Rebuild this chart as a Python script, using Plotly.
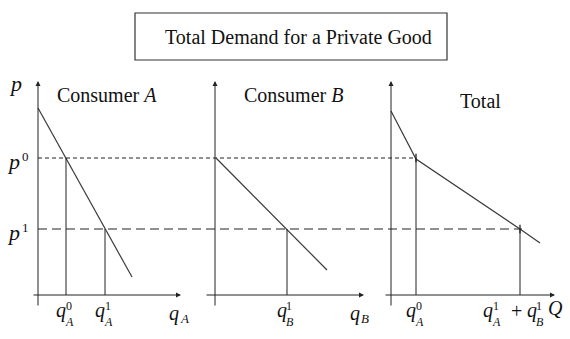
import plotly.graph_objects as go

# ---------------- data (price / quantity units) ----------------
P_LEVELS = [13.7, 6.6]            # p0, p1
DEMAND_A_Q = [0.0, 9.4]
DEMAND_A_P = [18.7, 1.8]
DEMAND_B_Q = [0.1, 11.2]
DEMAND_B_P = [13.7, 2.5]
TOTAL_Q = [0.0, 2.5, 12.9, 14.9]
TOTAL_P = [18.4, 13.6, 6.6, 5.2]
QA_POINTS = [2.8, 6.7]            # q_A^0, q_A^1
QB_POINTS = [7.2]                 # q_B^1
QT_POINTS = [2.5, 12.9]           # total q at p0, p1
DASH_END = [37.8, 48.4]           # extent of dashed price lines (left-panel units)
PANEL_TITLES = ["Consumer <i>A</i>", "Consumer <i>B</i>", "Total"]
TITLE = "Total Demand for a Private Good"

W, H = 570, 339
SERIF = "Liberation Serif"
INK = "#222"
LINE = "#3a3a3a"

fig = go.Figure()

# demand curves
fig.add_trace(go.Scatter(x=DEMAND_A_Q, y=DEMAND_A_P, xaxis="x", yaxis="y",
                         mode="lines", line=dict(color=LINE, width=1.2)))
fig.add_trace(go.Scatter(x=DEMAND_B_Q, y=DEMAND_B_P, xaxis="x2", yaxis="y",
                         mode="lines", line=dict(color=LINE, width=1.2)))
fig.add_trace(go.Scatter(x=TOTAL_Q, y=TOTAL_P, xaxis="x3", yaxis="y",
                         mode="lines", line=dict(color=LINE, width=1.2)))

# dashed price lines
fig.add_trace(go.Scatter(x=[0, DASH_END[0]], y=[P_LEVELS[0]] * 2, xaxis="x", yaxis="y",
                         mode="lines", line=dict(color=INK, width=1, dash="4px,3px")))
fig.add_trace(go.Scatter(x=[0, DASH_END[1]], y=[P_LEVELS[1]] * 2, xaxis="x", yaxis="y",
                         mode="lines", line=dict(color=INK, width=1, dash="9px,5px")))

# vertical quantity drops
for q, p in zip(QA_POINTS, P_LEVELS):
    fig.add_trace(go.Scatter(x=[q, q], y=[0, p], xaxis="x", yaxis="y",
                             mode="lines", line=dict(color=INK, width=1)))
fig.add_trace(go.Scatter(x=[QB_POINTS[0]] * 2, y=[0, P_LEVELS[1]], xaxis="x2", yaxis="y",
                         mode="lines", line=dict(color=INK, width=1)))
for q, p in zip(QT_POINTS, P_LEVELS):
    fig.add_trace(go.Scatter(x=[q, q], y=[0, p], xaxis="x3", yaxis="y",
                             mode="lines", line=dict(color=INK, width=1)))
# small marks at the kinks of the total curve
fig.add_trace(go.Scatter(x=QT_POINTS, y=P_LEVELS, xaxis="x3", yaxis="y", mode="markers",
                         marker=dict(symbol="line-ns", size=6,
                                     line=dict(color=INK, width=1.3))))

# ---------------- axes with arrows ----------------
ann = []
axes_spec = [("x", -0.6, 14.3), ("x2", -1.0, 14.9), ("x3", -0.7, 16.4)]
for xr, x0, x1 in axes_spec:
    ann.append(dict(x=x1, y=0, ax=x0, ay=0, xref=xr, yref="y", axref=xr, ayref="y",
                    showarrow=True, arrowhead=2, arrowsize=1, arrowwidth=1,
                    arrowcolor=INK, text=""))
    ann.append(dict(x=0, y=21.4, ax=0, ay=-1.2, xref=xr, yref="y", axref=xr, ayref="y",
                    showarrow=True, arrowhead=2, arrowsize=1, arrowwidth=1,
                    arrowcolor=INK, text=""))


def txt(text, x, y, xref, yref, size=16, xanchor="center", yanchor="middle",
        xshift=0, yshift=0):
    ann.append(dict(text=text, x=x, y=y, xref=xref, yref=yref, showarrow=False,
                    xanchor=xanchor, yanchor=yanchor, xshift=xshift, yshift=yshift,
                    borderpad=0, align="left",
                    font=dict(family=SERIF, size=size, color="#111")))


def qlabel(x, xref, sup, sub, dx=0):
    txt("<i>q</i>", x, 0, xref, "y", 20, "right", "middle", dx + 1, -15)
    # superscript stacked over subscript in one small text block
    txt("%s<br><i>%s</i>" % (sup, sub), x, 0, xref, "y", 12, "left", "middle",
        dx - 2, -19)


# panel titles
txt(PANEL_TITLES[0], 107 / W, 1 - 95 / H, "paper", "paper", 20)
txt(PANEL_TITLES[1], 293 / W, 1 - 95 / H, "paper", "paper", 20)
txt(PANEL_TITLES[2], 480 / W, 1 - 101 / H, "paper", "paper", 20)

# main title with box
txt(TITLE, 298 / W, 1 - 37 / H, "paper", "paper", 20)

# price labels
txt("<i>p</i>", 15 / W, 1 - 83 / H, "paper", "paper", 22)
for i, p in enumerate(P_LEVELS):
    txt("<i>p</i>", 21 / W, p, "paper", "y", 22, "right", "middle", 0, -3)
    txt(str(i), 21 / W, p, "paper", "y", 13, "left", "middle", 0, 2)

# quantity labels
qlabel(QA_POINTS[0], "x", "0", "A")
qlabel(QA_POINTS[1], "x", "1", "A")
qlabel(QB_POINTS[0], "x2", "1", "B")
qlabel(QT_POINTS[0], "x3", "0", "A")
# axis names
txt("<i>q</i>", 14.2, 0, "x", "y", 20, "right", "middle", 0, -18)
txt("<i>A</i>", 14.2, 0, "x", "y", 13, "left", "middle", -1, -23)
txt("<i>q</i>", 14.6, 0, "x2", "y", 20, "right", "middle", 0, -18)
txt("<i>B</i>", 14.6, 0, "x2", "y", 13, "left", "middle", -1, -23)
# q_A^1 + q_B^1 Q
qx = QT_POINTS[1]
qlabel(qx, "x3", "1", "A", -27)
txt("+", qx, 0, "x3", "y", 20, "center", "middle", -4, -16)
qlabel(qx, "x3", "1", "B", 17)
txt("<i>Q</i>", qx, 0, "x3", "y", 20, "left", "middle", 27, -13)

hidden = dict(visible=False, showgrid=False, zeroline=False, fixedrange=True)
fig.update_layout(
    width=W, height=H,
    margin=dict(l=0, r=0, t=0, b=0),
    paper_bgcolor="white", plot_bgcolor="white",
    showlegend=False,
    xaxis=dict(range=[-3.8, 53.2], domain=[0, 1], **hidden),
    xaxis2=dict(range=[-21.5, 35.5], domain=[0, 1], overlaying="x", anchor="y", **hidden),
    xaxis3=dict(range=[-39.1, 17.9], domain=[0, 1], overlaying="x", anchor="y", **hidden),
    yaxis=dict(range=[-4.4, 29.5], domain=[0, 1], **hidden),
    annotations=ann,
    shapes=[dict(type="rect", xref="paper", yref="paper",
                 x0=135 / W, x1=447 / W, y0=1 - 60 / H, y1=1 - 13 / H,
                 line=dict(color="#333", width=1.2))],
)

fig.write_html("out.html")
